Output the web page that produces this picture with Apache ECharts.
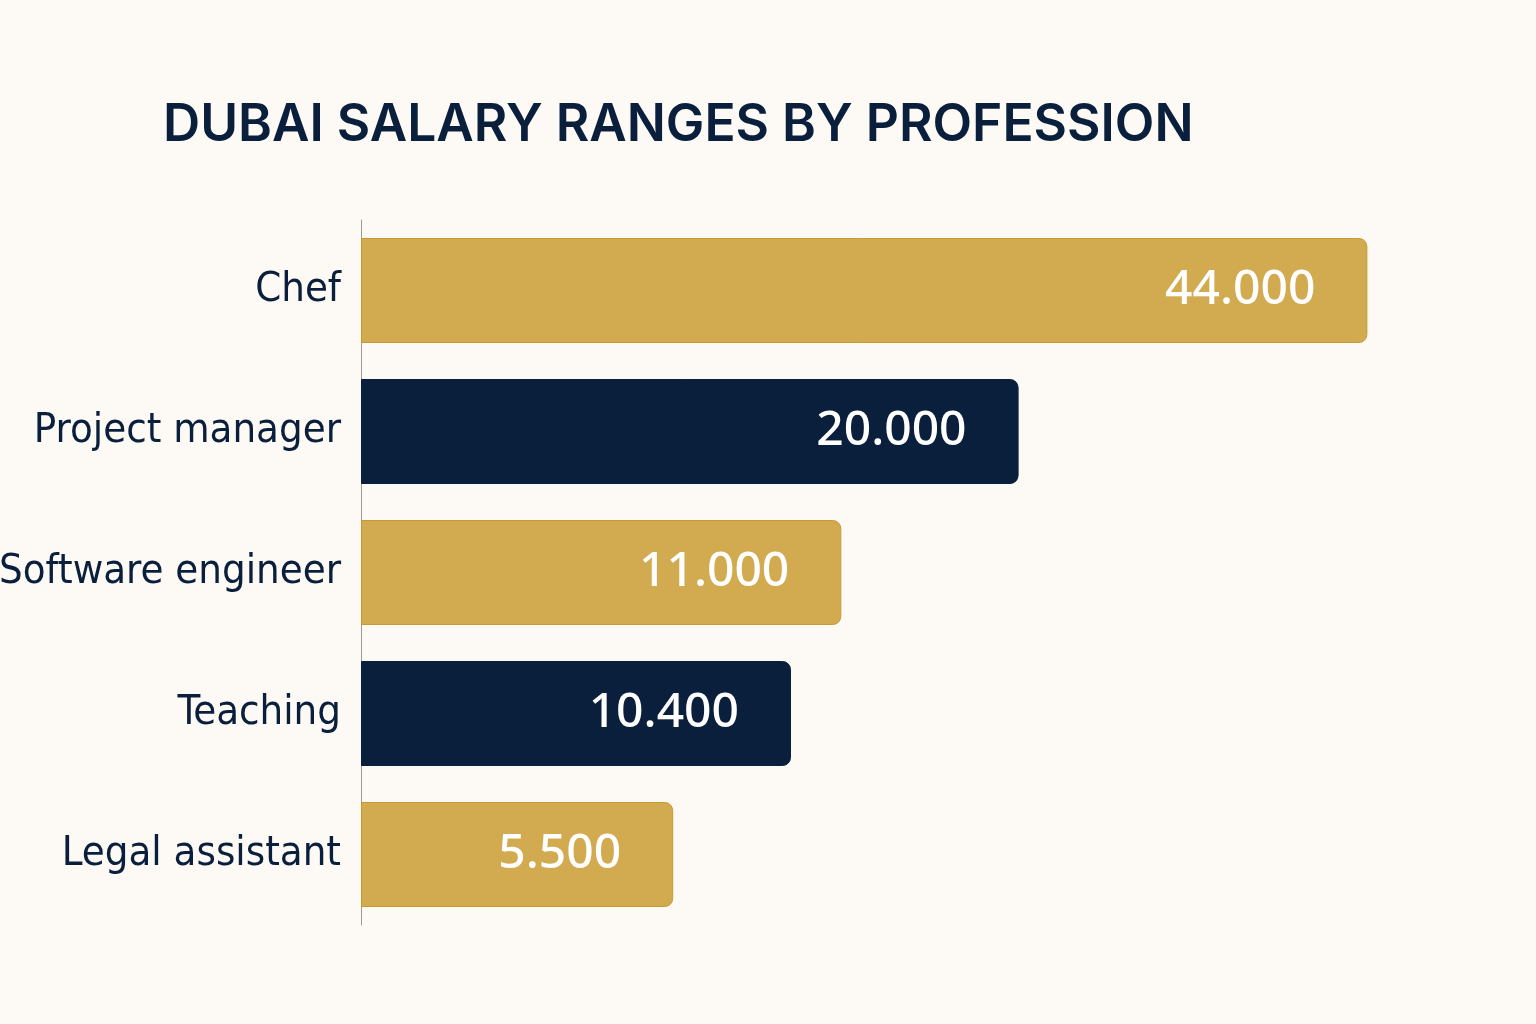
<!DOCTYPE html>
<html>
<head>
<meta charset="utf-8">
<script src="https://cdn.jsdelivr.net/npm/echarts@6/dist/echarts.min.js"></script>
<style>
  html, body { margin: 0; padding: 0; background: #fdfaf5; }
  #chart { width: 1536px; height: 1024px; }
</style>
</head>
<body>
<div id="chart"></div>
<script>
// 数据
const professions = ['Chef', 'Project manager', 'Software engineer', 'Teaching', 'Legal assistant'];
const salaries = [44000, 20000, 11000, 10400, 5500];
// the bars in the picture are not drawn to scale, so their lengths are read off separately
const barLengths = [44000, 28750, 21000, 18800, 13650];
const barColors = ['#d2aa4f', '#0a1f3c', '#d2aa4f', '#0a1f3c', '#d2aa4f'];

let chart = echarts.init(document.getElementById('chart'));

let option = {
    backgroundColor: '#fdfaf5',
    title: {
        text: 'DUBAI SALARY RANGES BY PROFESSION',
        left: 158,
        top: 95,
        textStyle: {
            color: '#0a1f3c',
            fontFamily: 'Inter',
            fontWeight: 600,
            fontSize: 51.5
        }
    },
    grid: { left: 361, right: 100, top: 220, bottom: 99, containLabel: false, outerBoundsMode: 'none' },
    xAxis: {
        type: 'value',
        min: 0,
        max: 47000,
        show: false
    },
    yAxis: {
        type: 'category',
        data: professions,
        inverse: true,
        axisLine: { show: true, lineStyle: { color: '#9a9a9a', width: 1 } },
        axisTick: { show: false },
        axisLabel: {
            color: '#0a1f3c',
            fontFamily: '"DejaVu Sans Condensed", sans-serif',
            fontSize: 41.5,
            margin: 20
        }
    },
    series: [{
        type: 'bar',
        barWidth: 105,
        data: barLengths.map((v, i) => ({
            value: v,
            itemStyle: {
                color: barColors[i],
                borderColor: i % 2 === 0 ? '#c99a30' : barColors[i],
                borderWidth: 1,
                borderRadius: [0, 8, 8, 0]
            }
        })),
        label: {
            show: true,
            position: 'insideRight',
            distance: 52,
            color: '#ffffff',
            fontFamily: '"Noto Sans", sans-serif',
            fontWeight: 500,
            fontSize: 48,
            formatter: p => salaries[p.dataIndex].toLocaleString('de-DE')
        }
    }]
};

chart.setOption(option);
</script>
</body>
</html>
